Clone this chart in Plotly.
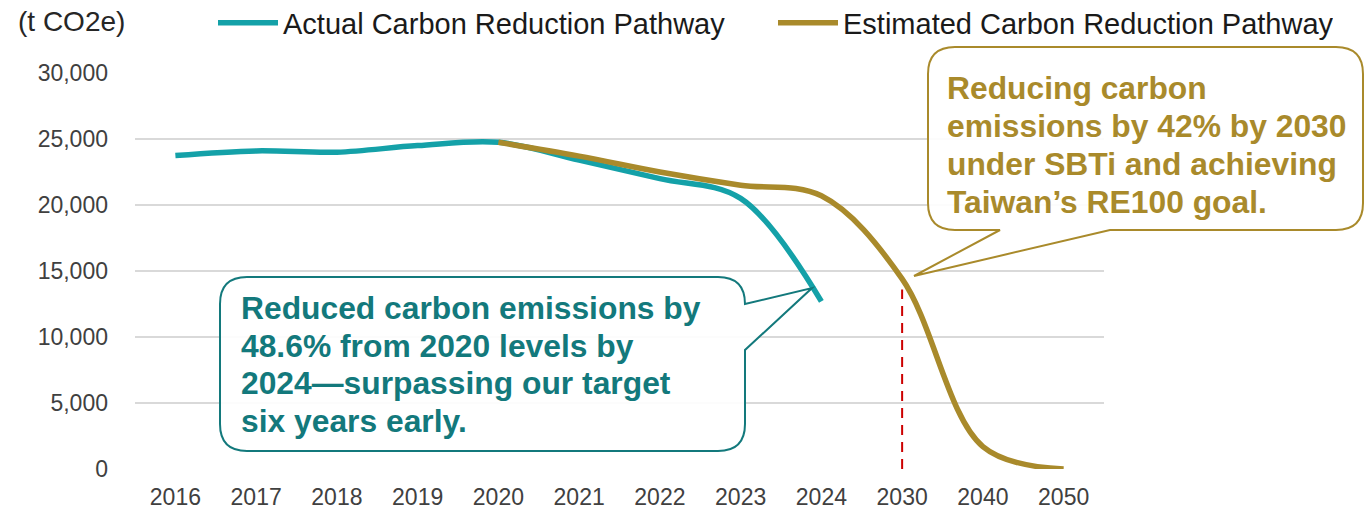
import plotly.graph_objects as go

categories = ["2016", "2017", "2018", "2019", "2020", "2021", "2022", "2023", "2024", "2030", "2040", "2050"]
actual_years = ["2016", "2017", "2018", "2019", "2020", "2021", "2022", "2023", "2024"]
actual_values = [23750, 24100, 24000, 24500, 24750, 23400, 22000, 20500, 12700]
estimated_years = ["2020", "2021", "2022", "2023", "2024", "2030", "2040", "2050"]
estimated_values = [24750, 23700, 22500, 21500, 20700, 14400, 1700, 0]
target_year = "2030"
target_marker_value = 13600
y_ticks = [0, 5000, 10000, 15000, 20000, 25000, 30000]
teal_note = ["Reduced carbon emissions by", "48.6% from 2020 levels by",
             "2024—surpassing our target", "six years early."]
gold_note = ["Reducing carbon", "emissions by 42% by 2030",
             "under SBTi and achieving", "Taiwan’s RE100 goal."]

TEAL = "#14A1A8"
GOLD = "#A98A2B"
TEAL_TEXT = "#13797C"
FONT = "Liberation Sans, Arial, sans-serif"

W, H = 1365, 510
PL, PR, PT, PB = 135, 1104, 73, 469  # plot area in pixels


def px(x):
    return (x - PL) / (PR - PL)


def py(y):
    return (PB - y) / (PB - PT)


fig = go.Figure()
fig.add_trace(go.Scatter(
    x=actual_years, y=actual_values, mode="lines", name="Actual Carbon Reduction Pathway",
    line=dict(color=TEAL, width=5.5, shape="spline", smoothing=1.0),
))
fig.add_trace(go.Scatter(
    x=estimated_years, y=estimated_values, mode="lines", name="Estimated Carbon Reduction Pathway",
    line=dict(color=GOLD, width=5.5, shape="spline", smoothing=1.0),
))

# dashed target marker at 2030
fig.add_shape(type="line", xref="x", yref="y",
              x0=categories.index(target_year), x1=categories.index(target_year),
              y0=0, y1=target_marker_value,
              line=dict(color="#CC0000", width=2, dash="10px,7px"))


def callout_path(left, top, right, bottom, r, pointer):
    """rounded rectangle with pointer, pixel coords -> paper path"""
    def P(x, y):
        return f"{px(x):.5f},{py(y):.5f}"
    segs = [f"M{P(left + r, top)}"]
    if pointer[0] == "bottom":
        segs += [f"L{P(right - r, top)}", f"Q{P(right, top)} {P(right, top + r)}",
                 f"L{P(right, bottom - r)}", f"Q{P(right, bottom)} {P(right - r, bottom)}",
                 f"L{P(pointer[2], bottom)}", f"L{P(*pointer[3])}", f"L{P(pointer[1], bottom)}",
                 f"L{P(left + r, bottom)}", f"Q{P(left, bottom)} {P(left, bottom - r)}",
                 f"L{P(left, top + r)}", f"Q{P(left, top)} {P(left + r, top)}", "Z"]
    else:  # right side pointer
        segs += [f"L{P(right - r, top)}", f"Q{P(right, top)} {P(right, top + r)}",
                 f"L{P(*pointer[3])}", f"L{P(right, pointer[2])}",
                 f"L{P(right, bottom - r)}", f"Q{P(right, bottom)} {P(right - r, bottom)}",
                 f"L{P(left + r, bottom)}", f"Q{P(left, bottom)} {P(left, bottom - r)}",
                 f"L{P(left, top + r)}", f"Q{P(left, top)} {P(left + r, top)}", "Z"]
    return " ".join(segs)


fig.add_shape(type="path", xref="paper", yref="paper",
              path=callout_path(220, 277, 745, 451, 27, ("right", None, 350, (812, 288))),
              line=dict(color=TEAL_TEXT, width=2), fillcolor="rgba(255,255,255,0.9)", layer="above")
fig.add_shape(type="path", xref="paper", yref="paper",
              path=callout_path(928, 47, 1363, 230, 27, ("bottom", 1000, 1110, (914, 276))),
              line=dict(color=GOLD, width=2), fillcolor="rgba(255,255,255,0.9)", layer="above")

for i, line in enumerate(teal_note):
    fig.add_annotation(xref="paper", yref="paper", x=px(239), y=py(308 + 37.7 * i),
                       xanchor="left", yanchor="middle", align="left", showarrow=False,
                       text=f"<b>{line}</b>", font=dict(family=FONT, size=31.8, color=TEAL_TEXT))
for i, line in enumerate(gold_note):
    fig.add_annotation(xref="paper", yref="paper", x=px(945), y=py(88 + 38 * i),
                       xanchor="left", yanchor="middle", align="left", showarrow=False,
                       text=f"<b>{line}</b>", font=dict(family=FONT, size=31.8, color=GOLD))
fig.add_annotation(xref="paper", yref="paper", x=px(16), y=py(22), xanchor="left", yanchor="middle",
                   showarrow=False, text="(t CO2e)", font=dict(family=FONT, size=28, color="#262626"))

fig.update_layout(
    width=W, height=H,
    margin=dict(l=PL, r=W - PR, t=PT, b=H - PB, autoexpand=False),
    plot_bgcolor="white", paper_bgcolor="white",
    font=dict(family=FONT, color="#404040"),
    showlegend=True,
    legend=dict(orientation="h", x=px(1333), xanchor="right", y=py(23), yanchor="middle",
                font=dict(family=FONT, size=29, color="#1a1a1a"),
                itemwidth=60, entrywidth=485, entrywidthmode="pixels",
                bgcolor="rgba(0,0,0,0)", tracegroupgap=0),
    xaxis=dict(type="category", categoryorder="array", categoryarray=categories,
               range=[-0.5, len(categories) - 0.5], showgrid=False, zeroline=False, showline=False,
               tickfont=dict(family=FONT, size=23, color="#404040"), ticks="", ticklabelstandoff=12),
    yaxis=dict(range=[0, 30000], tickvals=y_ticks, tickformat=",", showgrid=True,
               gridcolor="#D9D9D9", gridwidth=1.5, zeroline=False, showline=False,
               tickfont=dict(family=FONT, size=23, color="#404040"), ticks="", ticklabelstandoff=26),
)

fig.write_html("out.html", config={"displayModeBar": False},
               post_script="document.body.style.margin='0';document.body.style.overflow='hidden';")
